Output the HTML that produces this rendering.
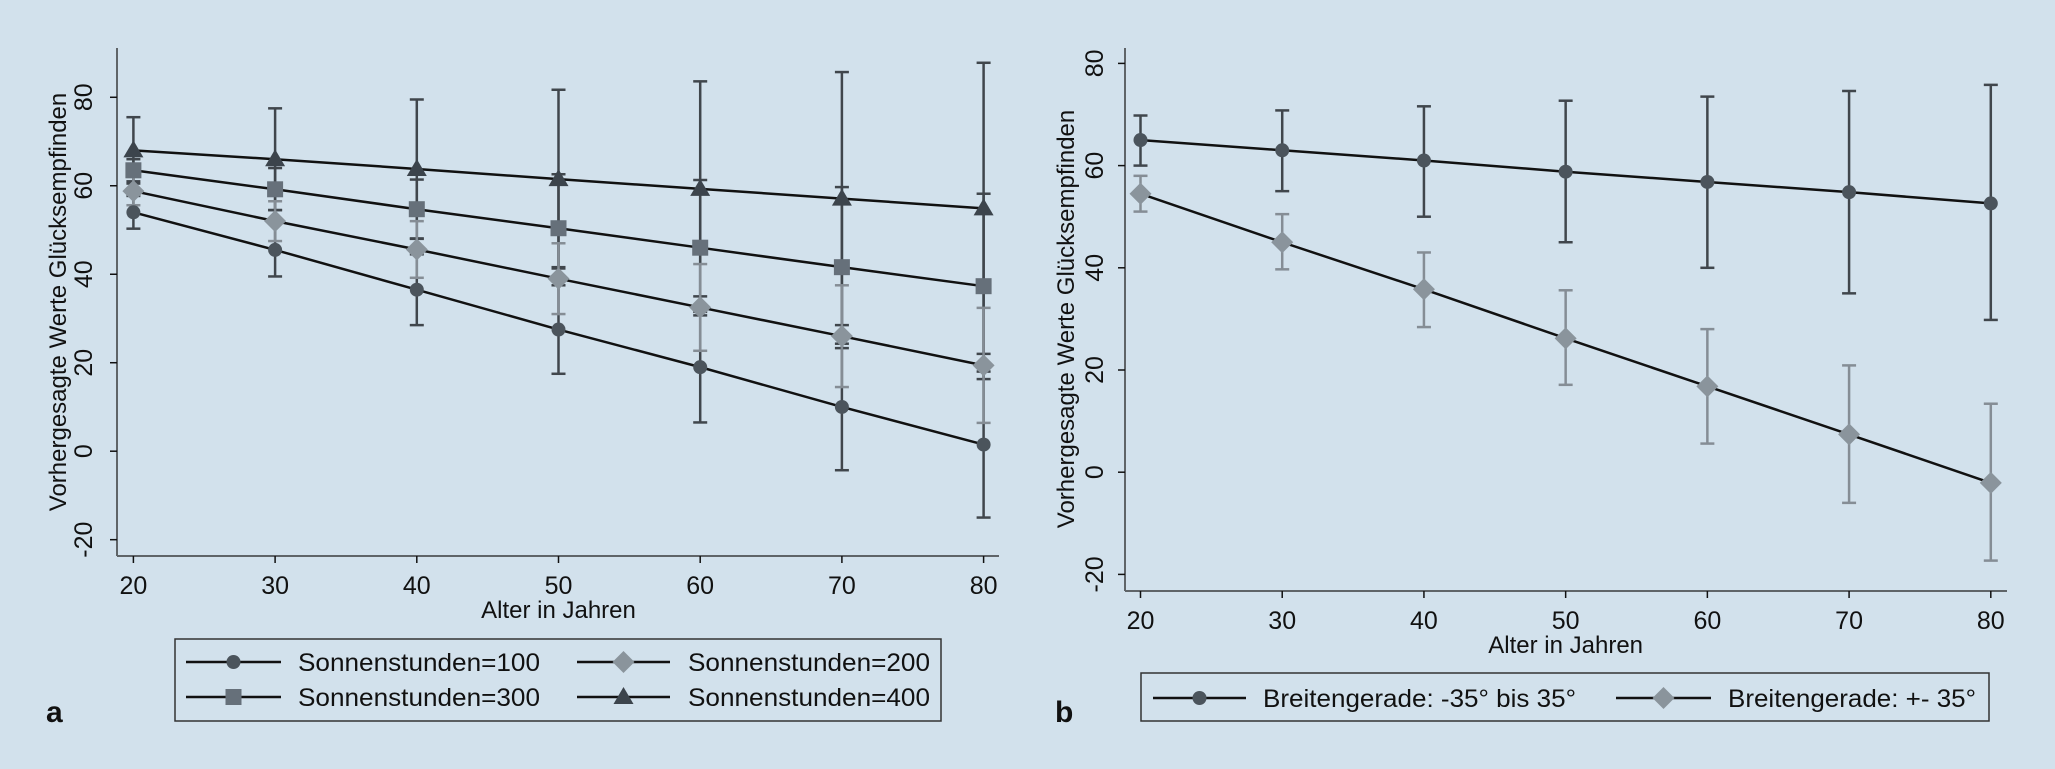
<!DOCTYPE html>
<html><head><meta charset="utf-8">
<style>
html,body{margin:0;padding:0;background:#d2e1ec;}
svg{display:block;font-family:"Liberation Sans",Arial,sans-serif;}
</style></head>
<body>
<svg id="chart" width="2055" height="769" viewBox="0 0 2055 769" xmlns="http://www.w3.org/2000/svg">
<rect x="0" y="0" width="2055" height="769" fill="#d2e1ec"/>
</svg>
<script>
// ---- data: panel a ----
const agesA = [20,30,40,50,60,70,80];
const s100 = [54,45.5,36.5,27.5,19,10,1.5];
const s100lo = [50.3,39.5,28.5,17.5,6.5,-4.3,-15];
const s100hi = [57.7,51.5,44.5,37.5,31.5,24.3,18];
const s200 = [58.8,52,45.6,39,32.5,26,19.4];
const s200lo = [55.6,47.5,39.2,31,22.7,14.5,6.4];
const s200hi = [62,56.5,52,47,42.3,37.5,32.4];
const s300 = [63.5,59.2,54.7,50.4,46,41.6,37.3];
const s300lo = [61,54.5,48,41.6,30.7,23.3,16.3];
const s300hi = [66,64,61.4,62.6,61.3,59.7,58.2];
const s400 = [68,66,63.8,61.5,59.3,57.1,54.9];
const s400lo = [60.5,54.5,48.1,41.3,35,28.5,22];
const s400hi = [75.5,77.5,79.5,81.7,83.6,85.7,87.8];
const xTicksA = [20,30,40,50,60,70,80];
const yTicksA = [-20,0,20,40,60,80];
const legendA = ["Sonnenstunden=100","Sonnenstunden=200","Sonnenstunden=300","Sonnenstunden=400"];
// ---- data: panel b ----
const agesB = [20,30,40,50,60,70,80];
const b1 = [65,63,61,58.8,56.8,54.8,52.6];
const b1lo = [60,55,50,45,40,35,29.8];
const b1hi = [69.8,70.8,71.6,72.7,73.5,74.6,75.8];
const b2 = [54.5,45,35.8,26.2,16.8,7.4,-2.1];
const b2lo = [51,39.7,28.4,17.1,5.6,-6,-17.3];
const b2hi = [58,50.5,43,35.6,28,20.9,13.4];
const xTicksB = [20,30,40,50,60,70,80];
const yTicksB = [-20,0,20,40,60,80];
const legendB = ["Breitengerade: -35\u00b0 bis 35\u00b0","Breitengerade: +- 35\u00b0"];

const NS="http://www.w3.org/2000/svg";
const svg=document.getElementById('chart');
function el(tag,attrs,parent,text){const e=document.createElementNS(NS,tag);for(const k in attrs)e.setAttribute(k,attrs[k]);if(text!==undefined)e.textContent=text;(parent||svg).appendChild(e);return e;}

const C={circle:'#4b545c',diamond:'#8a949c',square:'#66707a',triangle:'#3c444c',barDark:'#40464c',barLight:'#858d95'};

function marker(g,type,x,y){
  let m;
  if(type==='circle') m=el('circle',{cx:x,cy:y,r:7,fill:C.circle},g);
  else if(type==='square') m=el('rect',{x:x-8,y:y-8,width:16,height:16,fill:C.square},g);
  else if(type==='diamond') m=el('polygon',{points:`${x},${y-11} ${x+11},${y} ${x},${y+11} ${x-11},${y}`,fill:C.diamond},g);
  else m=el('polygon',{points:`${x},${y-10} ${x+10},${y+7} ${x-10},${y+7}`,fill:C.triangle},g);
  
  
}

function panel(cfg){
  const g=el('g',{});
  
  
  const xs=v=>cfg.x0+(v-20)/60*(cfg.x1-cfg.x0);
  const ys=v=>cfg.yZero-v*cfg.yUnit;
  const ya=el('line',{x1:cfg.axL,y1:cfg.axT,x2:cfg.axL,y2:cfg.axB,stroke:'#5f6468','stroke-width':2},g);
  
  const xa=el('line',{x1:cfg.axL,y1:cfg.axB,x2:cfg.axR,y2:cfg.axB,stroke:'#5f6468','stroke-width':2},g);
  
  cfg.xTicks.forEach(t=>{
    const x=xs(t);
    el('line',{x1:x,y1:cfg.axB,x2:x,y2:cfg.axB+7,stroke:'#111','stroke-width':1.5},g);
    const tx=el('text',{x:x,y:cfg.xLabY,'font-size':25,'text-anchor':'middle',fill:'#111'},g,String(t));
    
  });
  cfg.yTicks.forEach(t=>{
    const y=ys(t);
    el('line',{x1:cfg.axL-7,y1:y,x2:cfg.axL,y2:y,stroke:'#111','stroke-width':1.5},g);
    const tx=el('text',{x:0,y:0,'font-size':25,'text-anchor':'middle',fill:'#111',transform:`translate(${cfg.yLabX},${y}) rotate(-90)`},g,String(t));
    
  });
  const xt=el('text',{x:(cfg.x0+cfg.x1)/2,y:cfg.xTitleY,'font-size':24,'text-anchor':'middle',fill:'#111'},g,'Alter in Jahren');
  
  const yt=el('text',{x:0,y:0,'font-size':24,'text-anchor':'middle',fill:'#111',transform:`translate(${cfg.yTitleX},${cfg.yTitleY}) rotate(-90)`},g,'Vorhergesagte Werte Glücksempfinden');
  
  cfg.series.forEach(s=>{
    cfg.ages.forEach((a,i)=>{
      const x=xs(a),col=s.bar;
      const eb=el('g',{stroke:col,'stroke-width':2.5},g);
      
      el('line',{x1:x,y1:ys(s.lo[i]),x2:x,y2:ys(s.hi[i])},eb);
      el('line',{x1:x-7,y1:ys(s.lo[i]),x2:x+7,y2:ys(s.lo[i])},eb);
      el('line',{x1:x-7,y1:ys(s.hi[i]),x2:x+7,y2:ys(s.hi[i])},eb);
    });
  });
  cfg.series.forEach(s=>{
    const pts=cfg.ages.map((a,i)=>xs(a)+','+ys(s.v[i])).join(' ');
    const pl=el('polyline',{points:pts,fill:'none',stroke:'#111','stroke-width':2.5},g);
    
    cfg.ages.forEach((a,i)=>marker(g,s.m,xs(a),ys(s.v[i])));
  });
  const lg=el('g',{},g);
  
  el('rect',{x:cfg.lg.x,y:cfg.lg.y,width:cfg.lg.w,height:cfg.lg.h,fill:'none',stroke:'#333','stroke-width':1.5},lg);
  cfg.lg.entries.forEach(e=>{
    const eg=el('g',{},lg);
    
    el('line',{x1:e.lx1,y1:e.y,x2:e.lx2,y2:e.y,stroke:'#111','stroke-width':2.5},eg);
    marker(eg,e.m,(e.lx1+e.lx2)/2,e.y);
    el('text',{x:e.tx,y:e.y+9,'font-size':25,fill:'#111',textLength:e.tl,lengthAdjust:'spacingAndGlyphs'},eg,e.label);
  });
  const pl=el('text',{x:cfg.letter.x,y:cfg.letter.y,'font-size':30,'font-weight':'bold',fill:'#111'},g,cfg.letter.t);
  
}

panel({name:'panel-a',x0:133.4,x1:983.6,yZero:451.2,yUnit:4.424,axL:117,axR:999,axT:48,axB:556,
  xTicks:xTicksA,yTicks:yTicksA,ages:agesA,xLabY:594,yLabX:92,xTitleY:618,yTitleX:66,yTitleY:302,
  series:[
    {name:'sonnenstunden-400',v:s400,lo:s400lo,hi:s400hi,m:'triangle',bar:C.barDark},
    {name:'sonnenstunden-300',v:s300,lo:s300lo,hi:s300hi,m:'square',bar:C.barDark},
    {name:'sonnenstunden-100',v:s100,lo:s100lo,hi:s100hi,m:'circle',bar:C.barDark},
    {name:'sonnenstunden-200',v:s200,lo:s200lo,hi:s200hi,m:'diamond',bar:C.barLight}],
  lg:{x:175,y:639,w:766,h:82,entries:[
    {lx1:186,lx2:281,y:662,m:'circle',tx:298,tl:242,label:legendA[0]},
    {lx1:577,lx2:670,y:662,m:'diamond',tx:688,tl:242,label:legendA[1]},
    {lx1:186,lx2:281,y:697,m:'square',tx:298,tl:242,label:legendA[2]},
    {lx1:577,lx2:670,y:697,m:'triangle',tx:688,tl:242,label:legendA[3]}]},
  letter:{x:46,y:722,t:'a'}});

panel({name:'panel-b',x0:1140.5,x1:1990.8,yZero:472.2,yUnit:5.11,axL:1125,axR:2007,axT:48,axB:591,
  xTicks:xTicksB,yTicks:yTicksB,ages:agesB,xLabY:629,yLabX:1103,xTitleY:653,yTitleX:1074,yTitleY:319,
  series:[
    {name:'breitengerade-innen',v:b1,lo:b1lo,hi:b1hi,m:'circle',bar:C.barDark},
    {name:'breitengerade-aussen',v:b2,lo:b2lo,hi:b2hi,m:'diamond',bar:C.barLight}],
  lg:{x:1141,y:673,w:848,h:48,entries:[
    {lx1:1153,lx2:1246,y:698,m:'circle',tx:1263,tl:313,label:legendB[0]},
    {lx1:1616,lx2:1711,y:698,m:'diamond',tx:1728,tl:248,label:legendB[1]}]},
  letter:{x:1055,y:722,t:'b'}});
</script>
</body></html>
